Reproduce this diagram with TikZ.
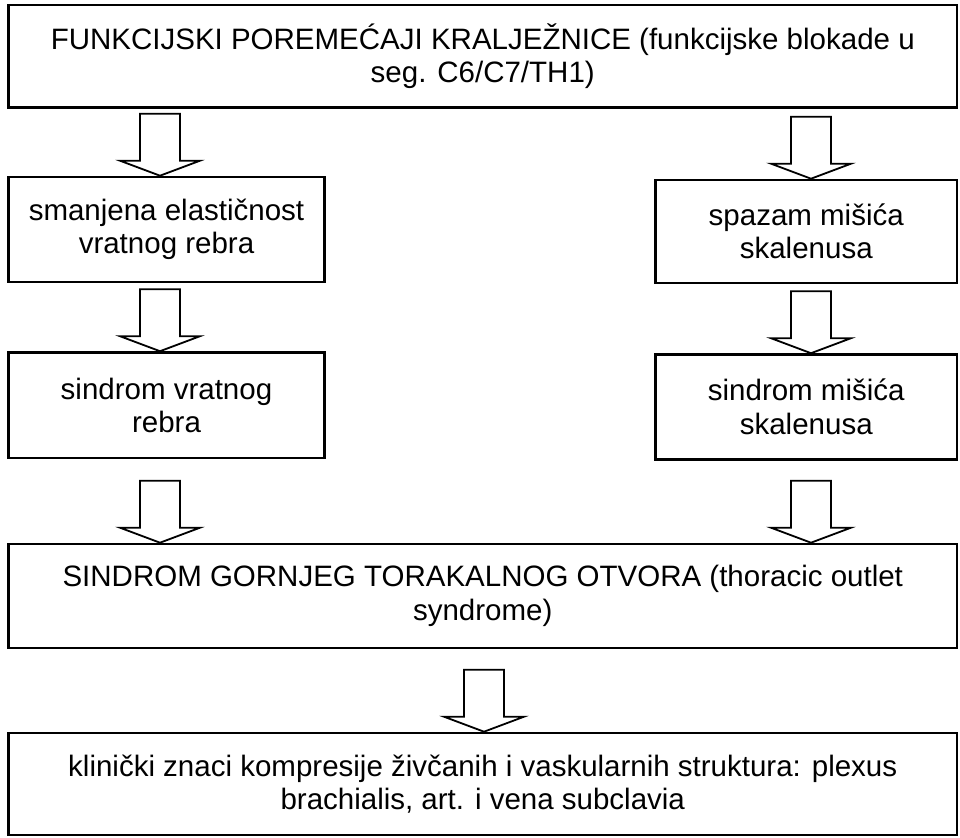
\documentclass[tikz,border=0pt]{standalone}
\usepackage{fontspec}
\setmainfont{Liberation Sans}
\usetikzlibrary{calc}

\tikzset{
    box/.style={draw, line width=2.6pt, inner sep=0pt, align=center,
        font=\fontsize{29.5}{33.5}\selectfont},
    blockarr/.style={draw, line width=1.8pt, fill=white, line join=miter, to path={
        ($(\tikztotarget)+(-20,-62)$) -- ($(\tikztotarget)+(-20,-15)$)
        -- ($(\tikztotarget)+(-40,-15)$) -- (\tikztotarget)
        -- ($(\tikztotarget)+(40,-15)$) -- ($(\tikztotarget)+(20,-15)$)
        -- ($(\tikztotarget)+(20,-62)$) -- cycle}}
}

\begin{document}
\begin{tikzpicture}[x=1pt, y=-1pt]
    \useasboundingbox[fill=white] (0,0) rectangle (960,837);
    % boxes
    \node[box, minimum width=948.5pt, minimum height=102.5pt] (poremecaji) at (482.75, 56.25)
        {FUNKCIJSKI POREMEĆAJI KRALJEŽNICE (funkcijske blokade u\\seg. C6/C7/TH1)};
    \node[box, minimum width=316pt, minimum height=105pt] (elasticnost) at (166.5, 229.5)
        {smanjena elastičnost\\vratnog rebra};
    \node[box, minimum width=301.5pt, minimum height=103pt] (spazam) at (806.25, 231.5)
        {spazam mišića\\skalenusa};
    \node[box, minimum width=316pt, minimum height=105.5pt] (rebro) at (166.5, 405.25)
        {sindrom vratnog\\rebra};
    \node[box, minimum width=301.5pt, minimum height=105pt] (skalenus) at (806.25, 407)
        {sindrom mišića\\skalenusa};
    \node[box, minimum width=948.5pt, minimum height=104pt] (otvor) at (482.75, 596)
        {SINDROM GORNJEG TORAKALNOG OTVORA (thoracic outlet\\syndrome)};
    \node[box, minimum width=948.5pt, minimum height=102pt] (znaci) at (482.75, 784)
        {klinički znaci kompresije živčanih i vaskularnih struktura: plexus\\brachialis, art. i vena subclavia};
    % arrow columns
    \coordinate (lx) at (160, 0);
    \coordinate (rx) at (811, 0);
    \coordinate (cx) at (484, 0);
    % arrows
    \draw[blockarr] (poremecaji) to (elasticnost.north -| lx);
    \draw[blockarr] (poremecaji) to (spazam.north -| rx);
    \draw[blockarr] (elasticnost) to (rebro.north -| lx);
    \draw[blockarr] (spazam) to (skalenus.north -| rx);
    \draw[blockarr] (rebro) to (otvor.north -| lx);
    \draw[blockarr] (skalenus) to (otvor.north -| rx);
    \draw[blockarr] (otvor) to (znaci.north -| cx);
\end{tikzpicture}
\end{document}
